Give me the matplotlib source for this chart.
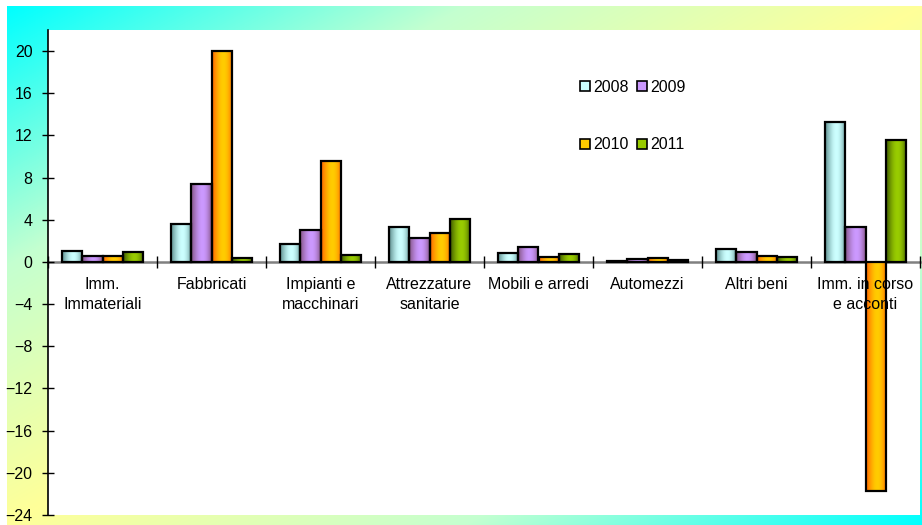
import numpy as np
import matplotlib
matplotlib.use("Agg")
import matplotlib.pyplot as plt
from matplotlib.colors import to_rgb, LinearSegmentedColormap
from matplotlib.patches import Patch

plt.rcParams['font.family'] = ['Liberation Sans', 'DejaVu Sans']

# Data
categories = ["Imm.\nImmateriali", "Fabbricati", "Impianti e\nmacchinari",
              "Attrezzature\nsanitarie", "Mobili e arredi", "Automezzi",
              "Altri beni", "Imm. in corso\ne acconti"]
years = ["2008", "2009", "2010", "2011"]
v2008 = [1.05, 3.6, 1.7, 3.35, 0.85, 0.10, 1.2, 13.25]
v2009 = [0.6, 7.35, 3.05, 2.25, 1.4, 0.25, 0.9, 3.3]
v2010 = [0.6, 20.0, 9.55, 2.7, 0.45, 0.35, 0.55, -21.7]
v2011 = [0.95, 0.4, 0.65, 4.05, 0.8, 0.15, 0.45, 11.55]
series = [v2008, v2009, v2010, v2011]
yticks = list(range(-24, 21, 4))

# Styling: (light centre colour, dark edge colour) per year
bar_colors = [("#CCFFFF", "#5E8F8F"), ("#CC99FF", "#845484"),
              ("#FFCC00", "#FF6600"), ("#99CC00", "#3F5A00")]
FS = 11.5

W, H = 922, 525
fig = plt.figure(figsize=(W / 100, H / 100), dpi=100)
fig.patch.set_facecolor("white")

# Diagonal cyan -> yellow -> cyan backdrop
bx0, by0 = 7, 6
bw, bh = W - bx0, H - by0
bg_ax = fig.add_axes([bx0 / W, 0, bw / W, bh / H], zorder=-5)
bg_ax.set_axis_off()
xx, yy = np.meshgrid(np.linspace(0, 1, bw), np.linspace(0, 1, bh))
t = xx + yy
t = np.where(t > 1, 2 - t, t)
bg_cmap = LinearSegmentedColormap.from_list(
    "bg", [(0.0, "#00FFFF"), (0.5, "#C4FFD0"), (1.0, "#FFFF99")])
bg_ax.imshow(bg_cmap(t)[..., :3], extent=[0, 1, 0, 1], aspect="auto", origin="upper")

# Main plot area
ax_l, ax_r, ax_t, ax_b = 48, 920, 30, 515
ax = fig.add_axes([ax_l / W, (H - ax_b) / H, (ax_r - ax_l) / W, (ax_b - ax_t) / H])
ax.set_facecolor("white")

n = len(categories)
x = np.arange(n)
bw_bar = 0.1835
u = np.linspace(0, 1, 64)
prof = np.sin(np.pi * np.clip(u, 0, 1) ** 1.15) ** 0.9

for k, vals in enumerate(series):
    light, dark = (np.array(to_rgb(c)) for c in bar_colors[k])
    grad = dark[None, :] + (light - dark)[None, :] * prof[:, None]
    bars = ax.bar(x + (k - 1.5) * bw_bar, vals, width=bw_bar,
                  facecolor="none", edgecolor="black", linewidth=1.6, zorder=3)
    for rect in bars:
        x0 = rect.get_x()
        x1 = x0 + rect.get_width()
        y0 = rect.get_y()
        y1 = y0 + rect.get_height()
        im = ax.imshow(grad[None, :, :], extent=[x0, x1, min(y0, y1), max(y0, y1)],
                       aspect="auto", interpolation="bilinear", zorder=2)
        im.set_clip_path(rect)

ax.set_xlim(-0.5, n - 0.5)
ax.set_ylim(-24, 22)

# Spines
for s in ("top", "right"):
    ax.spines[s].set_visible(False)
ax.spines["left"].set_linewidth(1.2)
ax.spines["bottom"].set_position(("data", 0))
ax.spines["bottom"].set_color("#808080")
ax.spines["bottom"].set_linewidth(1.8)
ax.spines["bottom"].set_zorder(1)

# Ticks
ax.set_yticks(yticks)
ax.tick_params(axis="y", direction="inout", length=8, width=1.0,
               labelsize=FS, pad=7, colors="black")
ax.set_xticks(np.arange(n + 1) - 0.5)
ax.set_xticklabels([])
ax.tick_params(axis="x", direction="inout", length=8, width=1.0, color="black")
ax.xaxis.set_zorder(5)

for i, lab in enumerate(categories):
    ax.annotate(lab, xy=(i, 0), xytext=(0, -11), textcoords="offset points",
                ha="center", va="top", fontsize=FS, linespacing=1.4, zorder=10)

# Legend laid out in two rows
handles = [Patch(facecolor=bar_colors[k][0], edgecolor="black", linewidth=1.2)
           for k in range(4)]
order = [0, 2, 1, 3]
leg = fig.legend([handles[i] for i in order], [years[i] for i in order],
                 ncol=2, loc="upper left", bbox_to_anchor=(580 / W, 1 - 80 / H),
                 frameon=False, fontsize=FS, handlelength=0.62, handleheight=0.56,
                 handletextpad=0.2, columnspacing=0.55, labelspacing=2.65,
                 borderpad=0, borderaxespad=0)

fig.savefig("out.png", dpi=100)
